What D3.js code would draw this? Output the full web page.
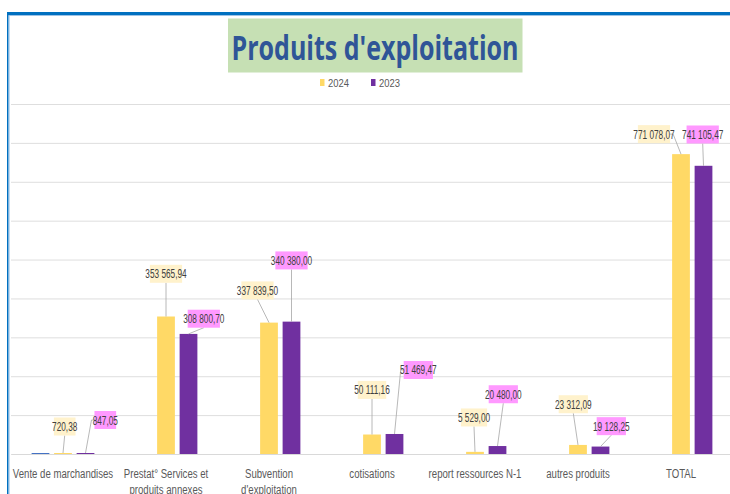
<!DOCTYPE html>
<html>
<head>
<meta charset="utf-8">
<script src="https://cdn.jsdelivr.net/npm/d3@7"></script>
<style>
  body { margin: 0; background: #fff; }
  text { font-family: "Liberation Sans", Arial, sans-serif; }
</style>
</head>
<body>
<div id="canvas"></div>
<script>
const categories = ["Vente de marchandises", "Prestat° Services et produits annexes", "Subvention d'exploitation",
  "cotisations", "report ressources N-1", "autres produits", "TOTAL"];
const seriesKeys = ["autre", "2024", "2023"];
const legendKeys = ["2024", "2023"];
const valuesAutre = [650, 0, 0, 0, 0, 0, 0];
const values2024 = [720.38, 353565.94, 337839.50, 50111.16, 5529.00, 23312.09, 771078.07];
const values2023 = [847.05, 308800.70, 340380.00, 51469.47, 20480.00, 19128.25, 741105.47];
const yTicks = [0, 100000, 200000, 300000, 400000, 500000, 600000, 700000, 800000, 900000];

// label box placement, relative to the top of each bar (moved by hand in the original)
const labelOffset2024 = [[1.7, -26.5], [0, -42.7], [-11.5, -32.2], [0, -44.6], [-1, -34.4], [-4.7, -40.7], [-27, -20]];
const labelOffset2023 = [[19.8, -33], [15.3, -15.2], [0, -61.2], [23.8, -64], [5.8, -51.8], [10.8, -20.4], [-0.8, -31.3]];

const colors = { "autre": "#4472C4", "2024": "#FFD966", "2023": "#7030A0" };
const labelFill = { "2024": "#FFF2CC", "2023": "#FF99FF" };

const width = 730;
const height = 494;

// squeeze a text horizontally (the original uses a narrow font)
function condense(sel, f) {
  sel.each(function () {
    const L = this.getComputedTextLength();
    d3.select(this).attr("textLength", L * f).attr("lengthAdjust", "spacingAndGlyphs");
  });
}

const svg = d3.select("#canvas").append("svg")
  .attr("width", width)
  .attr("height", height);

// frame
svg.append("rect").attr("x", 7).attr("y", 12).attr("width", width - 7).attr("height", 3).attr("fill", "#0070C0");
svg.append("rect").attr("x", 7).attr("y", 15).attr("width", width - 7).attr("height", 1).attr("fill", "#9DC3E6");
svg.append("rect").attr("x", 7).attr("y", 12).attr("width", 1.6).attr("height", height - 12).attr("fill", "#0070C0");
svg.append("rect").attr("x", 8.6).attr("y", 15).attr("width", 1).attr("height", height - 15).attr("fill", "#9DC3E6");

// title
svg.append("rect").attr("x", 228).attr("y", 18.5).attr("width", 294.5).attr("height", 54)
  .attr("fill", "#C6E0B4");
svg.append("text")
  .attr("x", 231.5).attr("y", 59.5)
  .attr("textLength", 287).attr("lengthAdjust", "spacingAndGlyphs")
  .style("font-size", "34px").style("font-weight", "bold")
  .style("font-family", "'Open Sans', 'Liberation Sans', sans-serif")
  .attr("fill", "#2F5597")
  .text("Produits d'exploitation");

// legend
const legendX = [320, 371];
legendKeys.forEach((k, i) => {
  svg.append("rect").attr("x", legendX[i]).attr("y", 79).attr("width", 4.5).attr("height", 7)
    .attr("fill", colors[k]);
  svg.append("text").attr("x", legendX[i] + 8).attr("y", 86.5)
    .style("font-size", "11.5px").attr("fill", "#595959").text(k)
    .call(condense, 0.82);
});

const x0 = d3.scaleBand().domain(categories).range([11.5, 732.5]).padding(0);
const x1 = d3.scaleBand().domain(seriesKeys)
  .range([x0.bandwidth() / 2 - 33.75, x0.bandwidth() / 2 + 33.75])
  .paddingInner(0.21).paddingOuter(0.105);
const y = d3.scaleLinear().domain([0, 900000]).range([454, 104]);

// gridlines
const grid = svg.append("g").attr("transform", "translate(11,0)")
  .call(d3.axisLeft(y).tickValues(yTicks).tickSize(-(width - 11)).tickFormat(""));
grid.select(".domain").remove();
grid.selectAll("line").attr("stroke", "#DEDEDE");

// x axis
const xAxis = svg.append("g").attr("transform", `translate(0,${y(0)})`)
  .call(d3.axisBottom(x0).tickSize(0).tickSizeOuter(0));
xAxis.select(".domain").attr("stroke", "#D9D9D9");
const squeeze = 0.8;
xAxis.selectAll(".tick").each(function () {
  const tick = d3.select(this);
  const t = tick.select("text");
  const words = t.text().split(" ");
  t.remove();
  const probe = tick.append("text").style("font-size", "12px");
  const lines = [];
  let line = [];
  words.forEach(w => {
    line.push(w);
    probe.text(line.join(" "));
    if (probe.node().getComputedTextLength() * squeeze > 106 && line.length > 1) {
      line.pop();
      lines.push(line.join(" "));
      line = [w];
    }
  });
  lines.push(line.join(" "));
  probe.remove();
  lines.forEach((l, i) => {
    tick.append("text")
      .attr("x", 0).attr("y", 23.5 + i * 16.5)
      .attr("text-anchor", "middle")
      .style("font-size", "12px")
      .attr("fill", "#595959")
      .text(l)
      .call(condense, squeeze);
  });
});

// bars
const rows = categories.map((c, i) => ({
  cat: c,
  vals: { "autre": valuesAutre[i], "2024": values2024[i], "2023": values2023[i] }
}));

const barTop = v => Math.min(y(v), y(0) - 1);

const groups = svg.append("g").selectAll("g").data(rows).join("g")
  .attr("transform", d => `translate(${x0(d.cat)},0)`);
groups.selectAll("rect")
  .data(d => seriesKeys.filter(k => d.vals[k] > 0).map(k => ({ key: k, value: d.vals[k] })))
  .join("rect")
  .attr("x", d => x1(d.key))
  .attr("width", x1.bandwidth())
  .attr("y", d => barTop(d.value))
  .attr("height", d => y(0) - barTop(d.value))
  .attr("fill", d => colors[d.key]);

// data labels
const fr = d3.formatLocale({ decimal: ",", thousands: " ", grouping: [3], currency: ["", " €"] });
const fmt = fr.format(",.2f");

const labelLayer = svg.append("g");
const lineLayer = labelLayer.append("g");
const boxLayer = labelLayer.append("g");

const labelSets = [
  { key: "2024", values: values2024, offsets: labelOffset2024 },
  { key: "2023", values: values2023, offsets: labelOffset2023 }
];

const labelSqueeze = 0.66;
labelSets.forEach(s => {
  s.values.forEach((v, i) => {
    const ax = x0(categories[i]) + x1(s.key) + x1.bandwidth() / 2;
    const ay = barTop(v);
    const cx = ax + s.offsets[i][0];
    const cy = ay + s.offsets[i][1];
    const txt = boxLayer.append("text")
      .attr("x", cx).attr("y", cy).attr("dy", "0.36em")
      .attr("text-anchor", "middle")
      .style("font-size", "12.5px")
      .attr("fill", "#404040")
      .text(fmt(v))
      .call(condense, labelSqueeze);
    const bw = txt.node().getComputedTextLength() * labelSqueeze + 5;
    const bh = 18;
    boxLayer.insert("rect", "text")
      .attr("x", cx - bw / 2).attr("y", cy - bh / 2)
      .attr("width", bw).attr("height", bh)
      .attr("fill", labelFill[s.key]);

    // leader line
    const left = cx - bw / 2, right = cx + bw / 2, bottom = cy + bh / 2;
    const outside = ax < left ? left - ax : (ax > right ? ax - right : 0);
    const below = ay - bottom;
    let pts;
    if (outside <= below * 0.1) {
      pts = [[cx, bottom], [ax, ay]];
    } else {
      const sx = ax < left ? left : right;
      const dir = ax < left ? -1 : 1;
      const hx = sx + dir * Math.min(3, outside);
      pts = [[sx, cy], [hx, cy], [ax, ay]];
    }
    lineLayer.append("path")
      .attr("d", d3.line()(pts))
      .attr("fill", "none")
      .attr("stroke", "#A6A6A6")
      .attr("stroke-width", 0.8);
  });
});
</script>
</body>
</html>
